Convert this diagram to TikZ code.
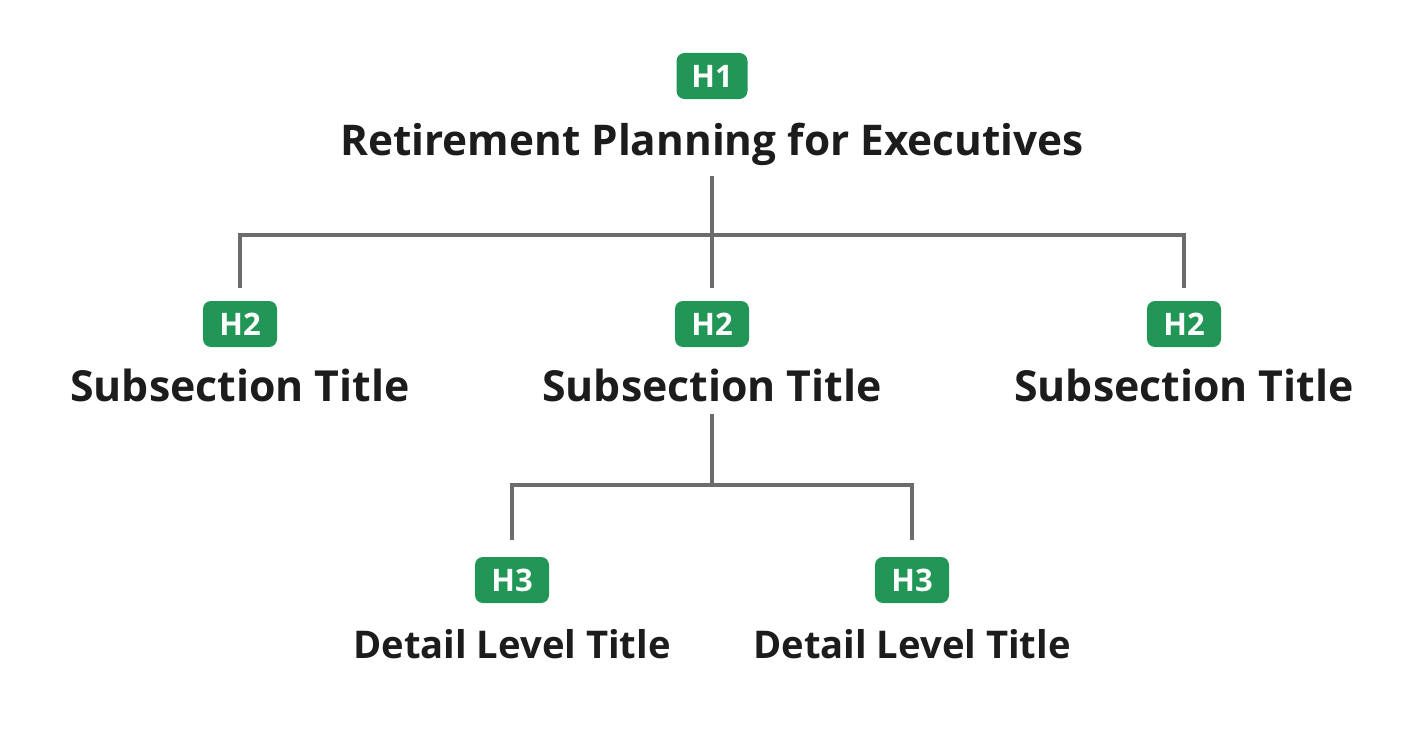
\documentclass[tikz,border=0pt]{standalone}
\usepackage{fontspec}
\setmainfont{Open Sans}
\usetikzlibrary{positioning}
\definecolor{badgegreen}{RGB}{33,150,86}
\definecolor{linegray}{RGB}{108,108,108}
\definecolor{textdark}{RGB}{28,28,28}

\begin{document}
\begin{tikzpicture}[x=1pt, y=-1pt,
        badge/.style={rectangle, rounded corners=8pt, fill=badgegreen, text=white,
                      minimum width=74pt, minimum height=46pt, inner sep=0pt,
                      font=\fontsize{31}{32}\selectfont\bfseries},
        heading/.style={text=textdark, inner sep=0pt, anchor=base},
        conn/.style={linegray, line width=4pt},
    ]
        \useasboundingbox (0,0) rectangle (1424,752);

        % level 1
        \node[badge, minimum width=71pt] (h1badge) at (712,76) {H1};
        \node[heading, font=\fontsize{42.3}{46}\selectfont\bfseries] (h1title) at (712,155) {Retirement Planning for Executives};

        % level 2
        \node[badge] (h2badgea) at (240,324) {H2};
        \node[badge] (h2badgeb) at (712,324) {H2};
        \node[badge] (h2badgec) at (1184,324) {H2};
        \node[heading, font=\fontsize{42.8}{46}\selectfont\bfseries] (h2titlea) at (240,401) {Subsection Title};
        \node[heading, font=\fontsize{42.8}{46}\selectfont\bfseries] (h2titleb) at (712,401) {Subsection Title};
        \node[heading, font=\fontsize{42.8}{46}\selectfont\bfseries] (h2titlec) at (1184,401) {Subsection Title};

        % level 3
        \node[badge] (h3badgea) at (512,580) {H3};
        \node[badge] (h3badgeb) at (912,580) {H3};
        \node[heading, font=\fontsize{38.2}{42}\selectfont\bfseries] (h3titlea) at (512,658) {Detail Level Title};
        \node[heading, font=\fontsize{38.2}{42}\selectfont\bfseries] (h3titleb) at (912,658) {Detail Level Title};

        % connectors
        \coordinate (split1) at (712,235);
        \coordinate (split2) at (712,485);
        \draw[conn, shorten <=11pt, shorten >=13pt] (h1title.south) -- (h2badgeb.north);
        \draw[conn, shorten >=13pt] (split1) -| (h2badgea.north);
        \draw[conn, shorten >=13pt] (split1) -| (h2badgec.north);
        \draw[conn, shorten <=12pt] (h2titleb.south) -- (split2);
        \draw[conn, shorten >=17pt] (split2) -| (h3badgea.north);
        \draw[conn, shorten >=17pt] (split2) -| (h3badgeb.north);
    \end{tikzpicture}
\end{document}
